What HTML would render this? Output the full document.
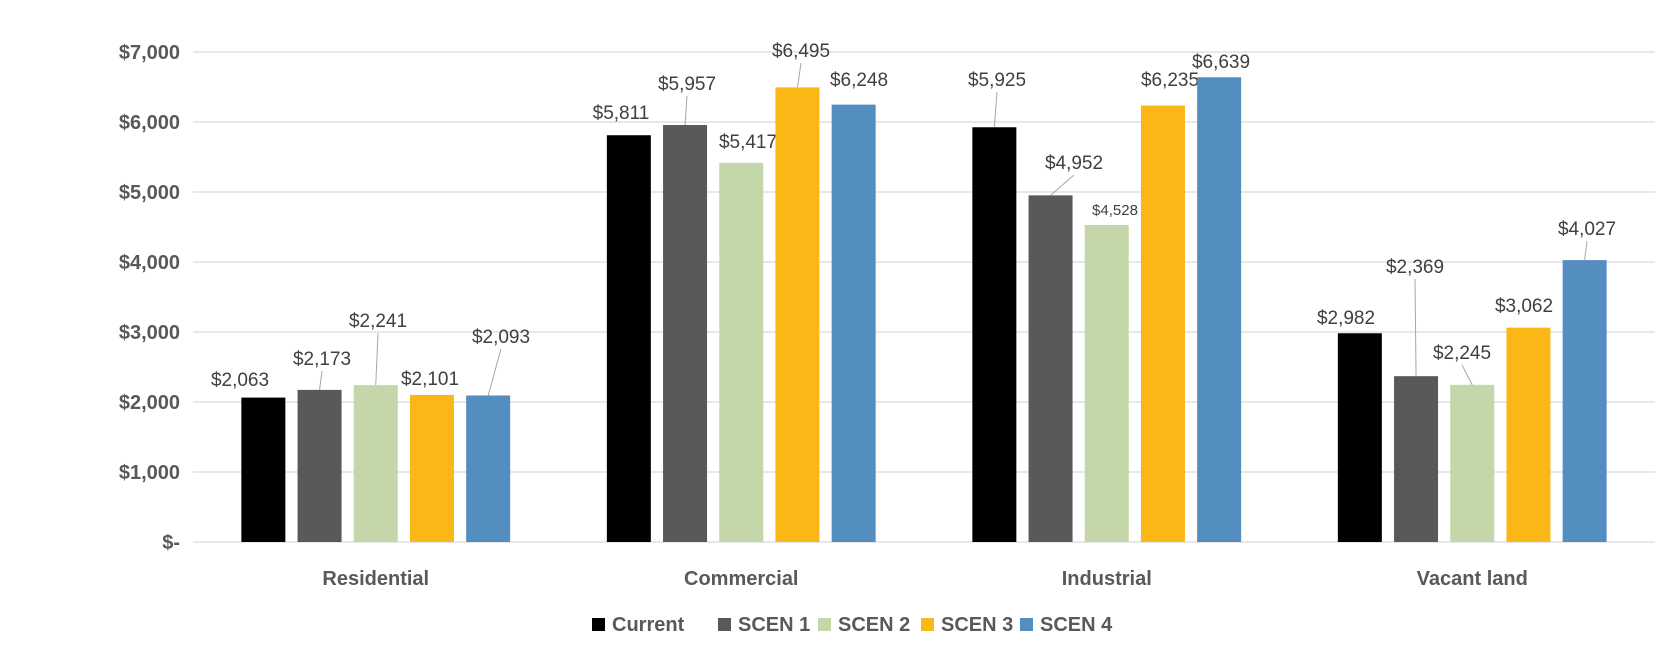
<!DOCTYPE html>
<html><head><meta charset="utf-8"><style>
body{margin:0;background:#fff;}
svg{display:block;font-family:"Liberation Sans",sans-serif;}
</style></head><body>
<svg id="chart" width="1676" height="663" viewBox="0 0 1676 663" xmlns="http://www.w3.org/2000/svg"></svg>
<script>
const categories = ["Residential","Commercial","Industrial","Vacant land"];
const seriesNames = ["Current","SCEN 1","SCEN 2","SCEN 3","SCEN 4"];
const current = [2063,5811,5925,2982];
const scen1 = [2173,5957,4952,2369];
const scen2 = [2241,5417,4528,2245];
const scen3 = [2101,6495,6235,3062];
const scen4 = [2093,6248,6639,4027];
const yTicks = [0,1000,2000,3000,4000,5000,6000,7000];
const yTickLabels = ["$-","$1,000","$2,000","$3,000","$4,000","$5,000","$6,000","$7,000"];
const series = [current,scen1,scen2,scen3,scen4];
const colors = ["#000000","#58595b","#c3d7a9","#fbb715","#548dc0"];
// label placement (layout, not data): [x, baselineY]
const labelPlace = [
 [[240,386],[322,365],[378,327],[430,385],[501,343]],
 [[621,119],[687,90],[748,148],[801,57],[859,86]],
 [[997,86],[1074,169],[1115,215],[1170,86],[1221,68]],
 [[1346,324],[1415,273],[1462,359],[1524,312],[1587,235]]
];
const NS="http://www.w3.org/2000/svg";
const svg=document.getElementById('chart');
const x0=193,x1=1655,yBase=542,yTop=52,yMax=7000;
const catW=(x1-x0)/categories.length, barW=44, step=56.2;
function yS(v){return yBase-(v/yMax)*(yBase-yTop);}
function xCat(i){return x0+catW*(i+0.5);}
function mk(tag,attrs,parent){const e=document.createElementNS(NS,tag);for(const k in attrs)e.setAttribute(k,attrs[k]);(parent||svg).appendChild(e);return e;}
yTicks.forEach((t,i)=>{
  const g=mk('line',{x1:x0,x2:x1,y1:yS(t),y2:yS(t),stroke:'#d9d9d9','stroke-width':1.3});
  
  
  const tx=mk('text',{x:180,y:yS(t)+7,'text-anchor':'end','font-size':20,'font-weight':'bold',fill:'#595959'});
  tx.textContent=yTickLabels[i];
  
  
});
categories.forEach((c,ci)=>{
  const cx=xCat(ci);
  series.forEach((s,si)=>{
    const bx=cx+(si-2)*step-barW/2, v=s[ci];
    const r=mk('rect',{x:bx,y:yS(v),width:barW,height:yBase-yS(v),fill:colors[si]});
    
    
    const lp=labelPlace[ci][si];
    const bc=bx+barW/2;
    let ly=Math.min(lp[1],yS(v)-8);
    const small=(ci==2&&si==2);
    if(ly+24<yS(v)){
      const ln=mk('line',{x1:lp[0],y1:ly+6,x2:bc,y2:yS(v),stroke:'#a6a6a6','stroke-width':1});
      
      
    }
    const t=mk('text',{x:lp[0],y:ly,'text-anchor':'middle','font-size':small?15:19,fill:'#404040'});
    t.textContent='$'+v.toLocaleString('en-US');
    
    
  });
  const ct=mk('text',{x:cx,y:585,'text-anchor':'middle','font-size':20,'font-weight':'bold',fill:'#595959'});
  ct.textContent=c;
  
  
});
const legSq=[592,718,818,921,1020];
seriesNames.forEach((n,i)=>{
  const g=mk('g',{});
  
  
  mk('rect',{x:legSq[i],y:618,width:13,height:13,fill:colors[i]},g);
  const t=mk('text',{x:legSq[i]+20,y:631,'font-size':20,'font-weight':'bold',fill:'#595959'},g);
  t.textContent=n;
});
</script>
</body></html>
